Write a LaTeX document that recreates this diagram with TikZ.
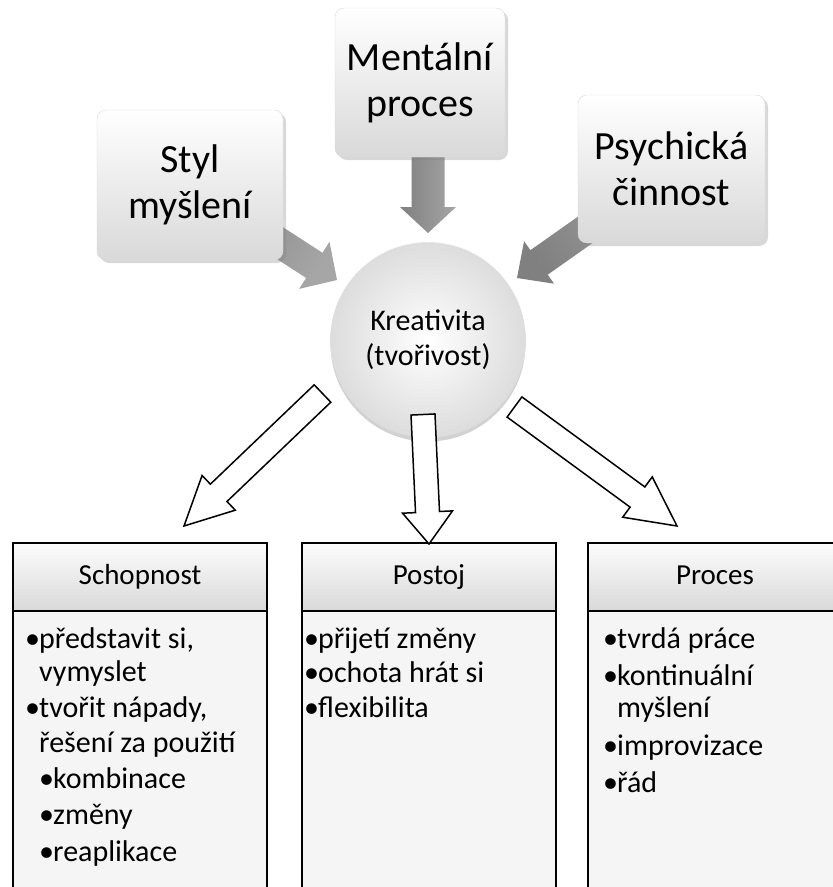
\documentclass[tikz,border=0pt]{standalone}
\usepackage{fontspec}
\setmainfont{Carlito}
\usetikzlibrary{calc,shadows}
\pgfdeclarelayer{background}
\pgfsetlayers{background,main}
\newcommand\blockarr[6]{%
  \coordinate (bah) at ($(#2)!#5!(#1)$);
  \path[#6] ($(#1)!#3!90:(#2)$) -- ($(bah)!#3!90:(#2)$) -- ($(bah)!#4!90:(#2)$) -- (#2)
    -- ($(bah)!#4!-90:(#2)$) -- ($(bah)!#3!-90:(#2)$) -- ($(#1)!#3!-90:(#2)$) -- cycle;}
\newcommand\bul{\makebox[14pt][l]{•}}
\begin{document}
\begin{tikzpicture}[x=1pt,y=-1pt,
  tbox/.style={rounded corners=9pt, top color=white, bottom color=gray!30, draw=gray!30, line width=0.4pt,
    drop shadow={opacity=0.3, shadow xshift=3pt, shadow yshift=-3pt},
    font=\fontsize{40}{46}\selectfont, align=center, inner sep=0pt},
  ball/.style={circle, minimum size=195pt, inner sep=0pt, shading=radial, inner color=white, outer color=gray!27,
    draw=gray!25, line width=0.4pt, drop shadow={opacity=0.35, shadow xshift=0pt, shadow yshift=-4pt},
    font=\fontsize{30}{35}\selectfont, align=center},
  grayarr/.style={left color=gray!100, right color=gray!70, draw=none},
  whitearr/.style={draw=black, fill=white, line width=1.5pt, line join=miter},
  hdr/.style={draw=black, line width=1.5pt, top color=gray!2, bottom color=gray!30, minimum width=254pt,
    minimum height=68pt, inner sep=0pt, text height=20pt, text depth=6pt, font=\fontsize{29}{35}\selectfont},
  bodybox/.style={draw=black, line width=1.2pt, fill=gray!8, minimum width=254pt, minimum height=300pt, inner sep=0pt},
  btxt/.style={anchor=base west, inner sep=0pt, font=\fontsize{30}{36}\selectfont}]
\clip (0,0) rectangle (833,887);

% top boxes
\node[tbox, minimum width=186pt, minimum height=150pt] (sty) at (190,185) {Styl\\myšlení};
\node[tbox, minimum width=170pt, minimum height=149pt] (men) at (420,82.5) {Mentální\\proces};
\node[tbox, minimum width=187pt, minimum height=148pt] (psy) at (671.5,169) {Psychická\\činnost};

% center circle
\node[ball] (kre) at (428,340) {Kreativita\\(tvořivost)};

% gray arrows (behind boxes)
\coordinate (g1e) at (337,280);
\coordinate (g2s) at ($(men.center)+(8,0)$);
\coordinate (g2e) at (428,233);
\coordinate (g3e) at (517,278);
\begin{pgfonlayer}{background}
\fill[white] (0,0) rectangle (833,887);
\blockarr{sty.center}{g1e}{15pt}{28pt}{27pt}{grayarr, shading angle=58}
\blockarr{g2s}{g2e}{16.5pt}{28pt}{26pt}{grayarr}
\blockarr{psy.center}{g3e}{15pt}{26pt}{27pt}{grayarr, shading angle=125}
\end{pgfonlayer}

% bottom columns
\node[bodybox] (b1) at (140,761) {};
\node[bodybox] (b2) at (429,761) {};
\node[bodybox] (b3) at (715,761) {};
\node[hdr] (h1) at (140,577) {Schopnost};
\node[hdr] (h2) at (429,577) {Postoj};
\node[hdr] (h3) at (715,577) {Proces};

% white arrows
\coordinate (w1s) at (322.5,393.5); \coordinate (w1e) at (184,526);
\coordinate (w2s) at (423,414.5);   \coordinate (w2e) at (429,544);
\coordinate (w3s) at (514.5,407);   \coordinate (w3e) at (677,526);
\blockarr{w1s}{w1e}{12pt}{24pt}{48pt}{whitearr}
\blockarr{w2s}{w2e}{12pt}{25pt}{32pt}{whitearr}
\blockarr{w3s}{w3e}{12.5pt}{25pt}{49pt}{whitearr}

% Schopnost items
\node[btxt] (s1) at (25,648) {\bul představit si,};
\node[btxt] (s2) at (39,681) {vymyslet};
\node[btxt] (s3) at (25,717) {\bul tvořit nápady,};
\node[btxt] (s4) at (39,752) {řešení za použití};
\node[btxt] (s5) at (39,788) {\bul kombinace};
\node[btxt] (s6) at (39,824) {\bul změny};
\node[btxt] (s7) at (39,861) {\bul reaplikace};

% Postoj items
\node[btxt] (p1) at (304,648) {\bul přijetí změny};
\node[btxt] (p2) at (304,682) {\bul ochota hrát si};
\node[btxt] (p3) at (304,717) {\bul flexibilita};

% Proces items
\node[btxt] (r1) at (603,648) {\bul tvrdá práce};
\node[btxt] (r2) at (603,685) {\bul kontinuální};
\node[btxt] (r3) at (617,717) {myšlení};
\node[btxt] (r4) at (603,755) {\bul improvizace};
\node[btxt] (r5) at (603,792) {\bul řád};
\end{tikzpicture}
\end{document}
